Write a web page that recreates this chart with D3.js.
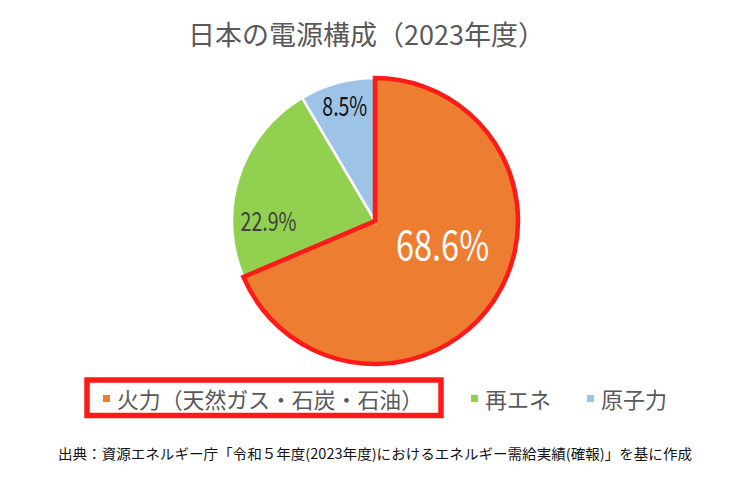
<!DOCTYPE html>
<html><head><meta charset="utf-8">
<script src="https://cdn.jsdelivr.net/npm/d3@7"></script>
<style>body{margin:0;background:#fff}svg{display:block}</style>
</head><body>
<svg id="c" width="750" height="489"></svg>
<script>
const categories = ["火力（天然ガス・石炭・石油）", "再エネ", "原子力"];
const values = [68.6, 22.9, 8.5];
const colors = ["#ED7D31", "#92D050", "#9DC3E6"];
const titleText = "日本の電源構成（2023年度）";
const sourceText = "出典：資源エネルギー庁「令和５年度(2023年度)におけるエネルギー需給実績(確報)」を基に作成";

const svg = d3.select("#c");
const font = "'Noto Sans CJK JP', 'Noto Sans', sans-serif";
const cx = 375, cy = 221, R = 143;

svg.append("text").attr("x", 366.5).attr("y", 45).attr("text-anchor", "middle")
  .attr("font-family", font).attr("font-size", 27).attr("fill", "#595959")
  .attr("textLength", 357).attr("lengthAdjust", "spacingAndGlyphs").text(titleText);

const pie = d3.pie().sort(null).value(d => d)(values);
const arc = d3.arc().innerRadius(0).outerRadius(R);
const g = svg.append("g").attr("transform", `translate(${cx},${cy})`);
g.selectAll("path.s").data(pie).join("path").attr("class", "s")
  .attr("d", arc).attr("fill", (d, i) => colors[i])
  .attr("stroke", "#fff").attr("stroke-width", 2.5);
// highlight outline on first slice
g.append("path").attr("d", arc(pie[0])).attr("fill", "none")
  .attr("stroke", "#FF1A1A").attr("stroke-width", 4.5).attr("stroke-linejoin", "miter");

// labels
const labelSpec = [
  {r: 75, dx: 5, dy: -19, size: 40, fill: "#fff", len: 93},
  {r: 112, dx: 0, dy: 33, size: 26, fill: "#404040", len: 56},
  {r: 122, dx: 2, dy: 1, size: 27, fill: "#111", len: 45}
];
pie.forEach((d, i) => {
  const s = labelSpec[i];
  const la = d3.arc().innerRadius(s.r).outerRadius(s.r);
  const [x, y] = la.centroid(d);
  g.append("text").attr("x", x + s.dx).attr("y", y + s.dy)
    .attr("text-anchor", "middle").attr("dominant-baseline", "central")
    .attr("font-family", font).attr("font-size", s.size).attr("fill", s.fill)
    .attr("textLength", s.len).attr("lengthAdjust", "spacingAndGlyphs")
    .text(d.data.toFixed(1) + "%");
});

// legend
const legX = [103, 471, 587];
const legLen = [306, 0, 0];
const leg = svg.append("g");
categories.forEach((c, i) => {
  leg.append("rect").attr("x", legX[i]).attr("y", 395).attr("width", 7).attr("height", 7).attr("fill", colors[i]);
  const t = leg.append("text").attr("x", legX[i] + 14).attr("y", 408)
    .attr("font-family", font).attr("font-size", 22).attr("fill", "#595959").text(c);
  if (legLen[i]) t.attr("textLength", legLen[i]).attr("lengthAdjust", "spacingAndGlyphs");
});
svg.append("rect").attr("x", 87).attr("y", 380).attr("width", 354).attr("height", 35.5)
  .attr("fill", "none").attr("stroke", "#FF1A1A").attr("stroke-width", 5.5);

svg.append("text").attr("x", 58).attr("y", 459)
  .attr("font-family", font).attr("font-size", 14).attr("fill", "#111")
  .attr("textLength", 634).attr("lengthAdjust", "spacingAndGlyphs").text(sourceText);
</script>
</body></html>
